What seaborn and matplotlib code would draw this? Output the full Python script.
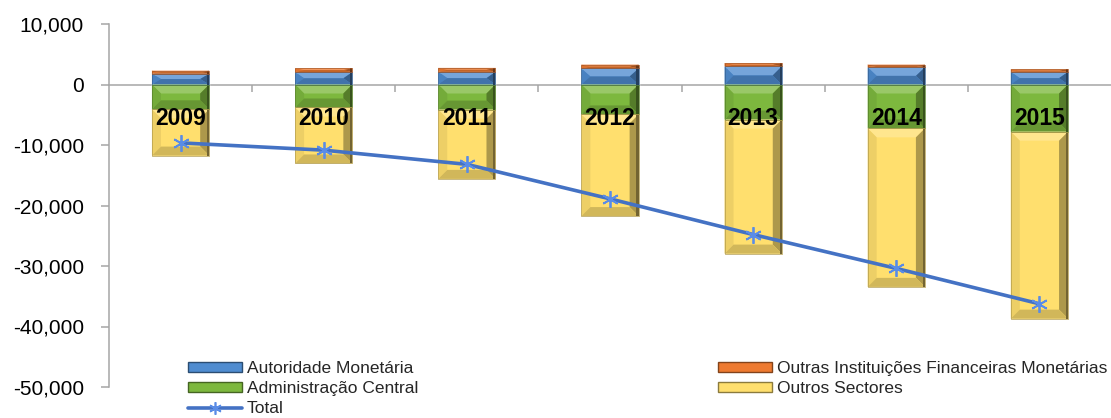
import numpy as np
import matplotlib
matplotlib.use("Agg")
import matplotlib.pyplot as plt
from matplotlib import font_manager
from matplotlib.colors import to_rgb
from matplotlib.patches import Polygon, Patch
from matplotlib.lines import Line2D
from matplotlib.ticker import FuncFormatter, FixedLocator
import seaborn as sns

# Posição de investimento internacional por sector institucional (milhões)
years = ["2009", "2010", "2011", "2012", "2013", "2014", "2015"]
autoridade_monetaria = [1800, 2050, 2100, 2650, 3000, 2850, 2100]
outras_ifm = [500, 650, 650, 650, 550, 450, 430]
administracao_central = [-4100, -3800, -4150, -4950, -5800, -7250, -7800]
outros_sectores = [-7650, -9250, -11450, -16800, -22150, -26200, -30900]
total = [-9650, -10850, -13200, -18900, -24800, -30400, -36250]

label_am = "Autoridade Monetária"
label_oifm = "Outras Instituições Financeiras Monetárias"
label_ac = "Administração Central"
label_os = "Outros Sectores"
label_total = "Total"

y_ticks = [10000, 0, -10000, -20000, -30000, -40000, -50000]

c_blue = "#4F8CD0"
c_orange = "#EE7A30"
c_green = "#7DB83E"
c_yellow = "#FFDF6E"
c_line = "#4472C4"
c_marker = "#5A8CE6"
c_axis = "#A6A6A6"

sns.set_theme(style="white")
plt.rcParams["font.family"] = ["Liberation Sans", "DejaVu Sans"]

fig = plt.figure(figsize=(11.11, 4.18), dpi=100)
ax = fig.add_axes([109 / 1111, 31 / 418, 1002 / 1111, 363 / 418])

x = np.arange(len(years))
bar_w = 0.4

am = np.array(autoridade_monetaria)
oifm = np.array(outras_ifm)
ac = np.array(administracao_central)
osec = np.array(outros_sectores)

bars = []
bars.append((ax.bar(x, am, bar_w, bottom=0, color=c_blue, zorder=3), c_blue))
bars.append((ax.bar(x, oifm, bar_w, bottom=am, color=c_orange, zorder=3), c_orange))
bars.append((ax.bar(x, ac, bar_w, bottom=0, color=c_green, zorder=3), c_green))
bars.append((ax.bar(x, osec, bar_w, bottom=ac, color=c_yellow, zorder=3), c_yellow))

ax.set_xlim(-0.5, len(years) - 0.5)
ax.set_ylim(-50000, 10000)


def shade(color, f):
    rgb = np.array(to_rgb(color))
    if f >= 0:
        return tuple(rgb + (1 - rgb) * f)
    return tuple(rgb * (1 + f))


# bevelled faces on each bar segment
p0 = ax.transData.transform((0, 0))
p1 = ax.transData.transform((1, 1))
px_x = p1[0] - p0[0]
px_y = p1[1] - p0[1]
bevel_px = 9
for container, color in bars:
    for rect in container:
        x0 = rect.get_x()
        x1 = x0 + rect.get_width()
        ya, yb = rect.get_y(), rect.get_y() + rect.get_height()
        ylo, yhi = min(ya, yb), max(ya, yb)
        dx = min(bevel_px / px_x, (x1 - x0) / 2)
        dy = min(bevel_px / px_y, (yhi - ylo) / 2)
        faces = [
            ([(x0, yhi), (x1, yhi), (x1 - dx, yhi - dy), (x0 + dx, yhi - dy)], 0.22),
            ([(x0, ylo), (x0, yhi), (x0 + dx, yhi - dy), (x0 + dx, ylo + dy)], -0.07),
            ([(x1, ylo), (x1, yhi), (x1 - dx, yhi - dy), (x1 - dx, ylo + dy)], -0.32),
            ([(x0, ylo), (x1, ylo), (x1 - dx, ylo + dy), (x0 + dx, ylo + dy)], -0.18),
        ]
        for pts, f in faces:
            ax.add_patch(Polygon(pts, closed=True, facecolor=shade(color, f),
                                 edgecolor="none", zorder=3.5))
        # darker rim on the right edge
        ax.add_patch(Polygon([(x1 - 0.25 * dx, ylo), (x1, ylo), (x1, yhi), (x1 - 0.25 * dx, yhi)],
                             closed=True, facecolor=shade(color, -0.55),
                             edgecolor="none", zorder=3.55))
        ax.add_patch(Polygon([(x0, ylo), (x1, ylo), (x1, yhi), (x0, yhi)], closed=True,
                             facecolor="none", edgecolor=shade(color, -0.3),
                             linewidth=0.5, zorder=3.6))

sns.lineplot(x=x, y=total, ax=ax, color=c_line, linewidth=2.6, legend=False,
             marker=(6, 2, 0), markersize=12, markeredgecolor=c_marker,
             markeredgewidth=1.3, zorder=5)

# year labels inside the bars
names = {f.name for f in font_manager.fontManager.ttflist}
if "Liberation Sans Narrow" in names:
    year_font = dict(family="Liberation Sans Narrow", fontsize=18.5)
else:
    year_font = dict(family="Liberation Sans", fontsize=16.5)
for xi, yr in zip(x, years):
    ax.text(xi, -5600, yr, ha="center", va="center", fontweight="bold",
            color="black", zorder=6, **year_font)

# axes styling
for side in ["top", "right"]:
    ax.spines[side].set_visible(False)
ax.spines["left"].set_color(c_axis)
ax.spines["left"].set_linewidth(1.1)
ax.spines["bottom"].set_position(("data", 0))
ax.spines["bottom"].set_color(c_axis)
ax.spines["bottom"].set_linewidth(1.1)
ax.spines["bottom"].set_zorder(2)

ax.yaxis.set_major_locator(FixedLocator(y_ticks))
ax.yaxis.set_major_formatter(FuncFormatter(lambda v, p: f"{v:,.0f}"))
ax.tick_params(axis="y", direction="out", length=6, width=1.1, color=c_axis,
               labelsize=15, labelcolor="black", pad=12, left=True)
ax.xaxis.set_major_locator(FixedLocator(x[:-1] + 0.5))
ax.set_xticklabels([])
ax.tick_params(axis="x", direction="out", length=5, width=1.1, color=c_axis, bottom=True)
ax.set_xlabel("")
ax.set_ylabel("")
ax.grid(False)

# legends
edge = lambda c: shade(c, -0.45)
h_am = Patch(facecolor=c_blue, edgecolor=edge(c_blue), linewidth=1.0)
h_ac = Patch(facecolor=c_green, edgecolor=edge(c_green), linewidth=1.0)
h_oifm = Patch(facecolor=c_orange, edgecolor=edge(c_orange), linewidth=1.0)
h_os = Patch(facecolor=c_yellow, edgecolor=edge(c_yellow), linewidth=1.0)
h_tot = Line2D([], [], color=c_line, linewidth=2.6, marker=(6, 2, 0), markersize=9,
               markeredgecolor=c_marker, markeredgewidth=1.2)

leg_kw = dict(frameon=False, fontsize=12.5, handlelength=3.1, handleheight=0.55,
              handletextpad=0.3, labelspacing=0.3, borderpad=0, borderaxespad=0)
leg1 = fig.legend([h_am, h_ac, h_tot], [label_am, label_ac, label_total],
                  loc="upper left", bbox_to_anchor=(188 / 1111, 1 - 361 / 418), **leg_kw)
leg2 = fig.legend([h_oifm, h_os], [label_oifm, label_os],
                  loc="upper left", bbox_to_anchor=(718 / 1111, 1 - 361 / 418), **leg_kw)

fig.savefig("out.png", dpi=100)
